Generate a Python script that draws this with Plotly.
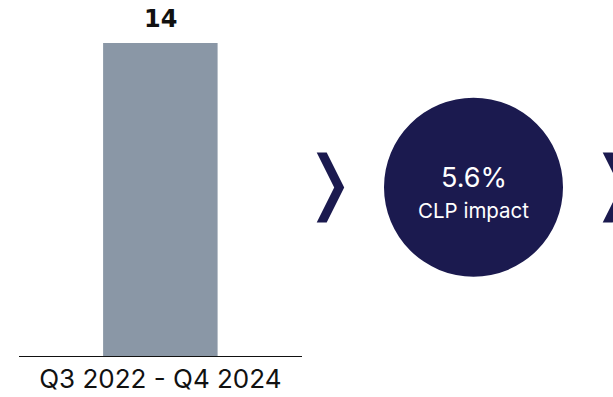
import plotly.graph_objects as go

W, H = 613, 397

categories = ["Q3 2022 - Q4 2024"]
values = [14]
value_labels = ["14"]
impact_value = "5.6%"
impact_label = "CLP impact"

BAR_COLOR = "#8A97A6"
NAVY = "#1B1A4F"


def px(x):
    return x / W


def py(y):
    return 1 - y / H


fig = go.Figure()
fig.add_trace(go.Bar(
    x=categories, y=values, width=0.405,
    marker=dict(color=BAR_COLOR, line=dict(width=0)),
    hoverinfo="skip", showlegend=False,
))

for c, v, t in zip(categories, values, value_labels):
    fig.add_annotation(x=c, y=v, xref="x", yref="y", text=f"<b>{t}</b>",
                       showarrow=False, yanchor="bottom", yshift=8,
                       xanchor="center",
                       font=dict(family="DejaVu Sans", size=24, color="#111111"))

shapes = []
# circle
shapes.append(dict(type="circle", xref="paper", yref="paper",
                   x0=px(384), x1=px(563), y0=py(276.7), y1=py(97.7),
                   fillcolor=NAVY, line=dict(width=0), layer="below"))


def chevron(x0):
    pts = [(x0, 152.5), (x0 + 10, 152.5), (x0 + 27.5, 187.5),
           (x0 + 10, 222.5), (x0, 222.5), (x0 + 17.5, 187.5)]
    d = "M " + " L ".join(f"{px(a):.5f},{py(b):.5f}" for a, b in pts) + " Z"
    return dict(type="path", xref="paper", yref="paper", path=d,
                fillcolor=NAVY, line=dict(width=0), layer="below")


shapes.append(chevron(316.7))
shapes.append(chevron(602.7))

fig.add_annotation(x=px(473.5), y=py(177), xref="paper", yref="paper",
                   text=impact_value, showarrow=False, xanchor="center", yanchor="middle",
                   font=dict(family="Inter", size=27, color="white"))
fig.add_annotation(x=px(473.5), y=py(210), xref="paper", yref="paper",
                   text=impact_label, showarrow=False, xanchor="center", yanchor="middle",
                   font=dict(family="Inter", size=20.5, color="white"))

fig.update_layout(
    width=W, height=H,
    margin=dict(l=0, r=0, t=0, b=0),
    paper_bgcolor="white", plot_bgcolor="white",
    shapes=shapes,
    xaxis=dict(domain=[px(19), px(301.7)], range=[-0.5, 0.5],
               showgrid=False, zeroline=False, showline=True,
               linecolor="#111111", linewidth=1, ticks="",
               tickfont=dict(family="Inter", size=26, color="#111111"),
               ticklabelstandoff=0),
    yaxis=dict(domain=[py(356), py(43)], range=[0, 14], visible=False),
)

fig.write_html("out.html", config={"displayModeBar": False},
               post_script="document.body.style.margin='0';document.body.style.overflow='hidden';")
